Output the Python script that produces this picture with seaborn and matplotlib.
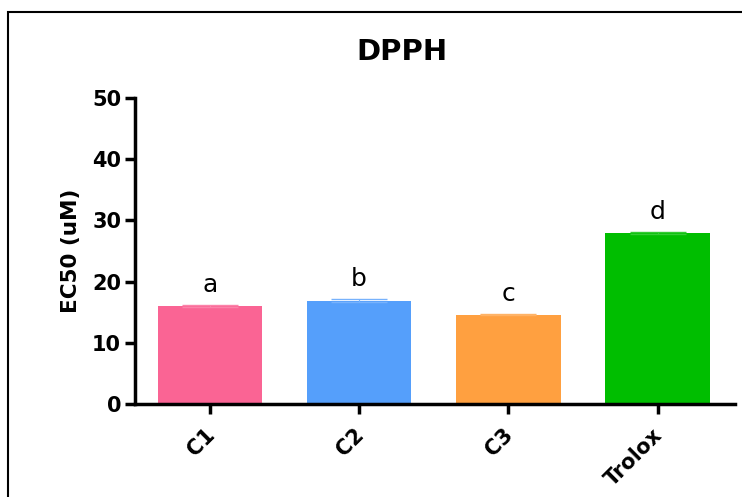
import matplotlib
matplotlib.use("Agg")
import matplotlib.pyplot as plt
import matplotlib.transforms as mtransforms
import seaborn as sns
import pandas as pd
from matplotlib.colors import to_rgb
from matplotlib.patches import Rectangle

# EC50 values for each sample with significance letters
categories = ["C1", "C2", "C3", "Trolox"]
ec50 = [16.0, 16.9, 14.6, 28.0]
sem = [0.15, 0.2, 0.1, 0.15]
letters = ["a", "b", "c", "d"]
colors = ["#FA6494", "#559FFB", "#FFA040", "#00BE00"]
yticks = [0, 10, 20, 30, 40, 50]

sns.set_style("white")
plt.rcParams["font.family"] = ["DejaVu Sans"]
plt.rcParams["text.color"] = "black"
plt.rcParams["axes.labelcolor"] = "black"
plt.rcParams["xtick.color"] = "black"
plt.rcParams["ytick.color"] = "black"

df = pd.DataFrame({"sample": categories, "ec50": ec50})

fig = plt.figure(figsize=(7.42, 4.97), dpi=100)
ax = fig.add_axes([0.182, 0.187, 0.808, 0.616])

sns.barplot(data=df, x="sample", y="ec50", hue="sample", palette=colors,
            order=categories, width=0.7, legend=False, errorbar=None, ax=ax,
            saturation=1, edgecolor="none")

# faint SEM caps in a slightly lighter tint of each bar colour
for i, (v, s, c) in enumerate(zip(ec50, sem, colors)):
    light = tuple(0.8 * x + 0.2 for x in to_rgb(c))
    ax.errorbar(i, v, yerr=s, fmt="none", ecolor=light, elinewidth=0.8,
                capsize=20, capthick=1.0, zorder=1)

for i, (v, s, lab) in enumerate(zip(ec50, sem, letters)):
    ax.text(i, v + s + 1.3, lab, ha="center", va="bottom", fontsize=18,
            color="black")

ax.set_xlim(-0.502, 3.516)
ax.set_ylim(0, 50)
ax.set_yticks(yticks)
ax.set_xlabel("")
ax.set_ylabel("EC50 (uM)", fontsize=15.5, fontweight="bold", labelpad=8)
ax.set_title("DPPH", fontsize=21, fontweight="bold", pad=27,
             x=(402 - 135) / 600)

for side in ["top", "right"]:
    ax.spines[side].set_visible(False)
for side in ["left", "bottom"]:
    ax.spines[side].set_linewidth(2.5)
    ax.spines[side].set_color("black")

ax.tick_params(axis="both", direction="out", length=7, width=2.5,
               color="black", labelsize=15, bottom=True, left=True)
ax.tick_params(axis="x", pad=8)
ax.tick_params(axis="y", pad=3)
shift = mtransforms.ScaledTranslation(-4 / 72, 0, fig.dpi_scale_trans)
for t in ax.get_yticklabels():
    t.set_fontweight("bold")
for t in ax.get_xticklabels():
    t.set_fontweight("bold")
    t.set_rotation(45)
    t.set_ha("right")
    t.set_va("top")
    t.set_rotation_mode("anchor")
    t.set_transform(t.get_transform() + shift)

# outer frame
fig.patches.append(Rectangle((8 / 742, -0.1), 1.2, 1 - 12 / 497 + 0.1,
                             transform=fig.transFigure, fill=False,
                             edgecolor="black", linewidth=1.5))

fig.savefig("out.png", dpi=100)
